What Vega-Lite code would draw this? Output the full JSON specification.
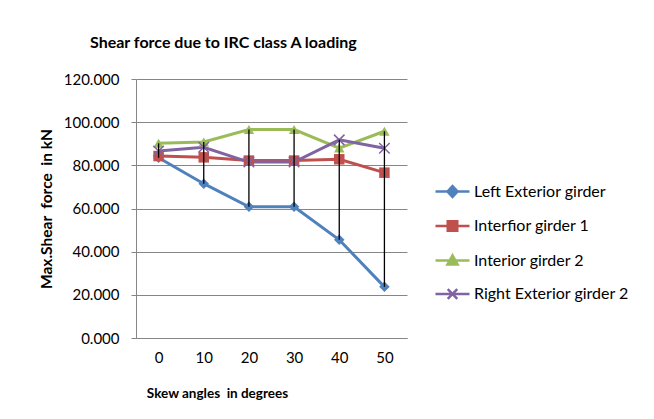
{
  "$schema": "https://vega.github.io/schema/vega-lite/v6.json",
  "autosize": {"type": "none"},
  "width": 271,
  "height": 259,
  "padding": {"left": 136, "top": 79, "right": 247, "bottom": 81},
  "background": "white",
  "title": {
    "text": "Shear force due to IRC class A loading",
    "anchor": "start",
    "frame": "group",
    "dx": -46,
    "offset": 21,
    "font": "Lato",
    "fontSize": 16,
    "fontWeight": "bold",
    "color": "#000000"
  },
  "config": {
    "view": {"stroke": null},
    "font": "Lato"
  },
  "data": {
    "values": [
      {"angle": "0", "series": "Left Exterior girder", "value": 83.5},
      {"angle": "10", "series": "Left Exterior girder", "value": 71.5},
      {"angle": "20", "series": "Left Exterior girder", "value": 60.8},
      {"angle": "30", "series": "Left Exterior girder", "value": 60.8},
      {"angle": "40", "series": "Left Exterior girder", "value": 45.5},
      {"angle": "50", "series": "Left Exterior girder", "value": 23.7},
      {"angle": "0", "series": "Interfior girder 1", "value": 84.3},
      {"angle": "10", "series": "Interfior girder 1", "value": 83.7},
      {"angle": "20", "series": "Interfior girder 1", "value": 82.2},
      {"angle": "30", "series": "Interfior girder 1", "value": 82.2},
      {"angle": "40", "series": "Interfior girder 1", "value": 82.8},
      {"angle": "50", "series": "Interfior girder 1", "value": 76.6},
      {"angle": "0", "series": "Interior girder 2", "value": 90.2},
      {"angle": "10", "series": "Interior girder 2", "value": 90.8},
      {"angle": "20", "series": "Interior girder 2", "value": 96.6},
      {"angle": "30", "series": "Interior girder 2", "value": 96.6},
      {"angle": "40", "series": "Interior girder 2", "value": 88.0},
      {"angle": "50", "series": "Interior girder 2", "value": 95.8},
      {"angle": "0", "series": "Right Exterior girder 2", "value": 86.6},
      {"angle": "10", "series": "Right Exterior girder 2", "value": 88.4},
      {"angle": "20", "series": "Right Exterior girder 2", "value": 81.5},
      {"angle": "30", "series": "Right Exterior girder 2", "value": 81.5},
      {"angle": "40", "series": "Right Exterior girder 2", "value": 91.8},
      {"angle": "50", "series": "Right Exterior girder 2", "value": 87.9}
    ]
  },
  "encoding": {
    "x": {
      "field": "angle",
      "type": "ordinal",
      "sort": ["0", "10", "20", "30", "40", "50"],
      "scale": {"type": "point", "padding": 0.5},
      "axis": {
        "title": "Skew angles\u00a0 in degrees",
        "titleFont": "Lato",
        "titleFontSize": 13.5,
        "titleFontWeight": "bold",
        "titleColor": "#000000",
        "titleX": 81,
        "titleY": 59,
        "titleAnchor": "middle",
        "titleAlign": "center",
        "titleBaseline": "alphabetic",
        "labelAngle": 0,
        "labelFont": "Lato",
        "labelFontSize": 15,
        "labelColor": "#000000",
        "labelPadding": 12,
        "ticks": false,
        "domainColor": "#868686",
        "domainWidth": 1,
        "grid": false
      }
    },
    "y": {
      "field": "value",
      "type": "quantitative",
      "scale": {"domain": [0, 120], "nice": false},
      "axis": {
        "values": [0, 20, 40, 60, 80, 100, 120],
        "format": ".3f",
        "title": "Max.Shear\u00a0 force\u00a0 in kN",
        "titleFont": "Lato",
        "titleFontSize": 15.5,
        "titleFontWeight": "bold",
        "titleColor": "#000000",
        "titlePadding": 9,
        "labelFont": "Lato",
        "labelFontSize": 15,
        "labelColor": "#000000",
        "labelPadding": 12,
        "tickSize": 5,
        "tickColor": "#868686",
        "domainColor": "#868686",
        "gridColor": "#868686",
        "gridWidth": 1
      }
    }
  },
  "layer": [
    {
      "mark": {"type": "line", "strokeWidth": 3},
      "encoding": {
        "color": {
          "field": "series",
          "type": "nominal",
          "sort": ["Left Exterior girder", "Interfior girder 1", "Interior girder 2", "Right Exterior girder 2"],
          "scale": {
            "domain": ["Left Exterior girder", "Interfior girder 1", "Interior girder 2", "Right Exterior girder 2"],
            "range": ["#4F81BD", "#C0504D", "#9BBB59", "#8064A2"]
          },
          "legend": {
            "title": null,
            "orient": "none",
            "legendX": 298,
            "legendY": 94,
            "labelFont": "Lato",
            "labelFontSize": 16,
            "labelColor": "#000000",
            "rowPadding": 5.5,
            "symbolSize": 1156,
            "symbolStrokeWidth": 2,
            "labelOffset": 3,
            "encode": {
              "symbols": {
                "update": {
                  "shape": {"signal": "datum.value === 'Left Exterior girder' ? 'M-1,0H1M-0.3,0L0,-0.32L0.3,0L0,0.32Z' : datum.value === 'Interfior girder 1' ? 'M-1,0H1M-0.28,-0.28H0.28V0.28H-0.28Z' : datum.value === 'Interior girder 2' ? 'M-1,0H1M-0.3,0.24L0,-0.3L0.3,0.24Z' : 'M-1,0H1M-0.28,-0.28L0.28,0.28M-0.28,0.28L0.28,-0.28'"},
                  "fill": {"signal": "scale('color', datum.value)"},
                  "stroke": {"signal": "scale('color', datum.value)"},
                  "strokeWidth": {"value": 2.5}
                }
              }
            }
          }
        }
      }
    },
    {
      "transform": [{"filter": "datum.series === 'Left Exterior girder'"}],
      "mark": {"type": "point", "shape": "diamond", "filled": true, "size": 110, "color": "#4F81BD", "opacity": 1}
    },
    {
      "transform": [{"filter": "datum.series === 'Interfior girder 1'"}],
      "mark": {"type": "point", "shape": "square", "filled": true, "size": 110, "color": "#C0504D", "opacity": 1}
    },
    {
      "transform": [{"filter": "datum.series === 'Interior girder 2'"}],
      "mark": {"type": "point", "shape": "triangle-up", "filled": true, "size": 110, "color": "#9BBB59", "opacity": 1}
    },
    {
      "transform": [{"filter": "datum.series === 'Right Exterior girder 2'"}],
      "mark": {"type": "point", "shape": "M-1,-1L1,1M-1,1L1,-1", "filled": false, "size": 110, "color": "#8064A2", "strokeWidth": 1.5, "opacity": 1}
    },
    {
      "mark": {"type": "rule", "color": "#000000", "strokeWidth": 1.3},
      "encoding": {
        "y": {"aggregate": "min", "field": "value", "type": "quantitative"},
        "y2": {"aggregate": "max", "field": "value"}
      }
    }
  ]
}
